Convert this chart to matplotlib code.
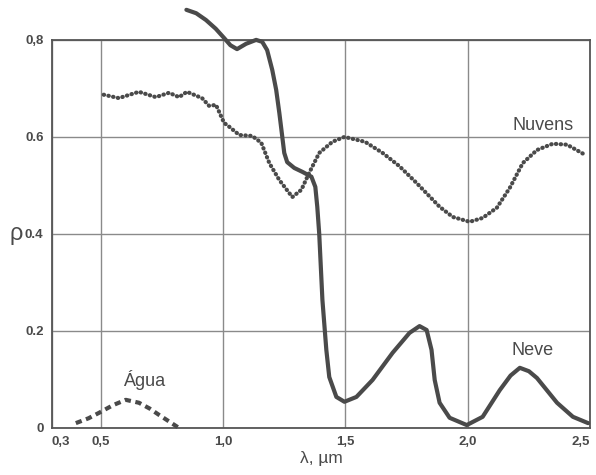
import matplotlib
matplotlib.use("Agg")
import matplotlib.pyplot as plt

plt.rcParams['font.family'] = ['Liberation Sans Narrow', 'Liberation Sans', 'DejaVu Sans']

# Neve (snow) reflectance
neve_x = [0.85, 0.89, 0.93, 0.97, 1.004, 1.03, 1.057, 1.094, 1.135, 1.16, 1.18,
          1.201, 1.217, 1.23, 1.242, 1.25, 1.262, 1.291, 1.324, 1.361, 1.377,
          1.385, 1.393, 1.406, 1.422, 1.434, 1.463, 1.496, 1.545, 1.611, 1.693,
          1.762, 1.803, 1.832, 1.852, 1.865, 1.885, 1.926, 1.996, 2.061, 2.131,
          2.175, 2.213, 2.25, 2.283, 2.365, 2.43, 2.492]
neve_y = [0.862, 0.855, 0.841, 0.823, 0.804, 0.789, 0.781, 0.792, 0.80, 0.796, 0.779,
          0.738, 0.697, 0.649, 0.60, 0.567, 0.548, 0.536, 0.528, 0.518, 0.497,
          0.456, 0.400, 0.264, 0.161, 0.105, 0.064, 0.054, 0.064, 0.099, 0.155,
          0.196, 0.210, 0.202, 0.161, 0.099, 0.052, 0.021, 0.006, 0.023, 0.078,
          0.108, 0.124, 0.117, 0.103, 0.052, 0.023, 0.01]

# Nuvens (clouds)
nuvens_x = [0.512, 0.574, 0.656, 0.725, 0.779, 0.82, 0.852, 0.914, 0.943, 0.971,
            1.004, 1.025, 1.066, 1.119, 1.156, 1.189, 1.23, 1.283, 1.32, 1.352,
            1.393, 1.447, 1.496, 1.58, 1.652, 1.72, 1.791, 1.885, 1.939, 2.008,
            2.061, 2.119, 2.172, 2.225, 2.283, 2.348, 2.406, 2.48]
nuvens_y = [0.687, 0.68, 0.693, 0.682, 0.691, 0.682, 0.693, 0.680, 0.664, 0.666,
            0.629, 0.621, 0.604, 0.602, 0.588, 0.546, 0.511, 0.476, 0.491, 0.526,
            0.567, 0.590, 0.60, 0.59, 0.567, 0.54, 0.505, 0.456, 0.435, 0.425,
            0.433, 0.454, 0.495, 0.546, 0.573, 0.586, 0.584, 0.563]

# Água (water)
agua_x = [0.398, 0.45, 0.492, 0.55, 0.602, 0.656, 0.70, 0.738, 0.82]
agua_y = [0.010, 0.020, 0.031, 0.047, 0.058, 0.052, 0.040, 0.027, 0.0]

xticks = [0.3, 0.5, 1.0, 1.5, 2.0, 2.5]
xtick_labels = ['0,3', '0,5', '1,0', '1,5', '2,0', '2,5']
yticks = [0, 0.2, 0.4, 0.6, 0.8]
ytick_labels = ['0', '0.2', '0.4', '0.6', '0,8']

ink = '#4a4a4a'

fig = plt.figure(figsize=(5.96, 4.75), dpi=100)
ax = fig.add_axes([0.087, 0.099, 0.903, 0.817])

ax.plot(neve_x, neve_y, color=ink, lw=3.0, solid_capstyle='round',
        solid_joinstyle='round', clip_on=False, zorder=3)
ax.plot(nuvens_x, nuvens_y, color=ink, lw=3.0, linestyle=(0, (0.1, 1.05)),
        dash_capstyle='round', clip_on=False, zorder=3)
ax.plot(agua_x, agua_y, color=ink, lw=3.0, linestyle=(0, (1.5, 1.1)),
        clip_on=False, zorder=3)

ax.set_xlim(0.3, 2.5)
ax.set_ylim(0, 0.8)
ax.set_xticks(xticks)
ax.set_xticklabels(xtick_labels)
ax.set_yticks(yticks)
ax.set_yticklabels(ytick_labels)
ax.tick_params(length=0, labelsize=9.5, colors=ink, pad=6)
for lab in ax.get_xticklabels() + ax.get_yticklabels():
    lab.set_fontweight('bold')
ax.get_xticklabels()[-1].set_ha('right')
ax.get_xticklabels()[0].set_ha('left')

ax.grid(True, color='#8a8a8a', lw=1.0)
for s in ax.spines.values():
    s.set_color('#555555')
    s.set_linewidth(1.3)

ax.set_xlabel('λ, µm', fontsize=12.5, color=ink, labelpad=2)
ax.set_ylabel('ρ', fontsize=17, color=ink, rotation=0, labelpad=6, va='center')

ax.text(0.676, 0.087, 'Água', fontsize=13, color=ink, ha='center')
ax.text(2.307, 0.614, 'Nuvens', fontsize=13, color=ink, ha='center')
ax.text(2.266, 0.15, 'Neve', fontsize=13, color=ink, ha='center')

fig.savefig('out.png', dpi=100)
